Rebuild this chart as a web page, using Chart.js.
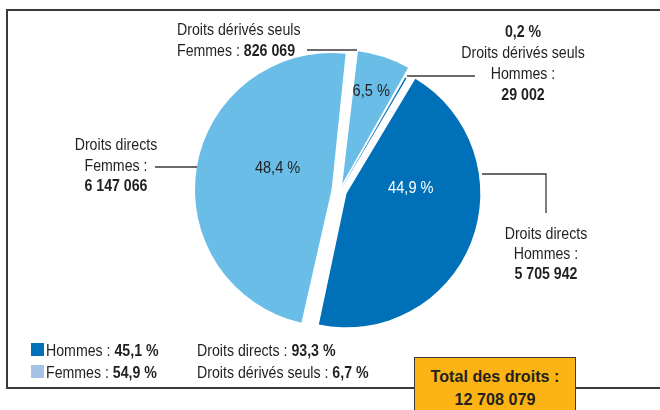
<!DOCTYPE html>
<html><head><meta charset="utf-8">
<script src="https://cdn.jsdelivr.net/npm/chart.js@4.4.1/dist/chart.umd.min.js"></script>
<style>
html,body{margin:0;padding:0;background:#fff;}
#wrap{position:relative;width:660px;height:410px;overflow:hidden;font-family:"Liberation Sans",Arial,sans-serif;font-size:16px;color:#231f20;}
#frame{position:absolute;left:6px;top:9px;width:700px;height:376px;border:2px solid #3a3a3a;border-right:none;}
canvas{position:absolute;left:0;top:0;}
.t{position:absolute;white-space:nowrap;line-height:21px;transform:scaleX(0.885);transform-origin:0 0;}
.c{text-align:center;transform-origin:50% 0;}
.sq{position:absolute;width:13px;height:13px;}
#total{position:absolute;left:414px;top:357px;width:162px;height:60px;background:#fbb413;border:1.5px solid #3a3a3a;box-sizing:border-box;}
#total div{position:absolute;left:0;width:100%;top:7px;text-align:center;font-weight:bold;font-size:17px;line-height:23px;transform:scaleX(0.95);transform-origin:50% 0;}
</style></head>
<body>
<div id="wrap">
  <div id="frame"></div>
  <canvas id="c" width="660" height="410"></canvas>
  <div class="t" style="left:177px;top:19px;">Droits dérivés seuls<br>Femmes : <b>826 069</b></div>
  <div class="t c" style="left:443px;width:160px;top:21px;"><b>0,2 %</b><br>Droits dérivés seuls<br>Hommes :<br><b>29 002</b></div>
  <div class="t c" style="left:46px;width:140px;top:135px;line-height:20.5px;">Droits directs<br>Femmes :<br><b>6 147 066</b></div>
  <div class="t c" style="left:476px;width:140px;top:224px;line-height:20px;">Droits directs<br>Hommes :<br><b>5 705 942</b></div>
  <div class="sq" style="left:31px;top:343px;background:#0070b9;"></div>
  <div class="sq" style="left:31px;top:365px;background:#a5c3e6;"></div>
  <div class="t" style="left:46px;top:340px;line-height:22px;">Hommes : <b>45,1 %</b><br>Femmes : <b>54,9 %</b></div>
  <div class="t" style="left:197px;top:340px;line-height:22px;">Droits directs : <b>93,3 %</b><br>Droits dérivés seuls : <b>6,7 %</b></div>
  <div id="total"><div>Total des droits :<br>12 708 079</div></div>
</div>
<script>
// ---- data ----
const categories = ['Droits dérivés seuls Femmes', 'Droits dérivés seuls Hommes', 'Droits directs Hommes', 'Droits directs Femmes'];
const values = [826069, 29002, 5705942, 6147066];
const percentLabels = ['6,5 %', '0,2 %', '44,9 %', '48,4 %'];

// ---- styles ----
const DARK = '#0070b9', LIGHT = '#69bde6';
const sliceColors = [LIGHT, DARK, DARK, LIGHT];
const sliceOffsets = [30, 4, 28, 34];
const labelPlace = [{a:0.47, r:0.75, color:'#231f20'}, null, {a:0.34, r:0.5, color:'#ffffff'}, {a:0.57, r:0.45, color:'#231f20'}];
const leaderLines = [
  [[307,50],[357,50]],
  [[407,76],[475,76]],
  [[155,167],[197,167]],
  [[482,174],[546,174],[546,213]]
];

const decor = {
  id: 'decor',
  afterDatasetsDraw(chart) {
    const ctx = chart.ctx;
    const meta = chart.getDatasetMeta(0);
    ctx.save();
    ctx.font = '16.5px "Liberation Sans", Arial, sans-serif';
    ctx.textAlign = 'center';
    ctx.textBaseline = 'middle';
    meta.data.forEach((arc, i) => {
      const p = labelPlace[i];
      if (!p) return;
      const {x, y, startAngle, endAngle, outerRadius} = arc.getProps(['x','y','startAngle','endAngle','outerRadius'], true);
      const off = (arc.options.offset || 0) / 4;
      const mid = (startAngle + endAngle) / 2;
      const cx = x + Math.cos(mid) * off, cy = y + Math.sin(mid) * off;
      const ang = startAngle + (endAngle - startAngle) * p.a;
      const lx = cx + Math.cos(ang) * outerRadius * p.r, ly = cy + Math.sin(ang) * outerRadius * p.r;
      ctx.save();
      ctx.translate(lx, ly);
      ctx.scale(0.885, 1);
      ctx.fillStyle = p.color;
      ctx.fillText(percentLabels[i], 0, 0);
      ctx.restore();
    });
    ctx.strokeStyle = '#3a3a3a';
    ctx.lineWidth = 1.3;
    leaderLines.forEach(pts => {
      ctx.beginPath();
      pts.forEach((pt, k) => k ? ctx.lineTo(pt[0], pt[1]) : ctx.moveTo(pt[0], pt[1]));
      ctx.stroke();
    });
    ctx.restore();
  }
};

new Chart(document.getElementById('c'), {
  type: 'pie',
  data: {
    labels: categories,
    datasets: [{
      data: values,
      backgroundColor: sliceColors,
      borderWidth: 0,
      offset: sliceOffsets
    }]
  },
  options: {
    responsive: false,
    animation: false,
    events: [],
    rotation: 6.4,
    radius: 129,
    layout: {padding: {left: 190, right: 170, top: 41, bottom: 69}},
    plugins: {legend: {display: false}, tooltip: {enabled: false}}
  },
  plugins: [decor]
});
</script>
</body></html>
